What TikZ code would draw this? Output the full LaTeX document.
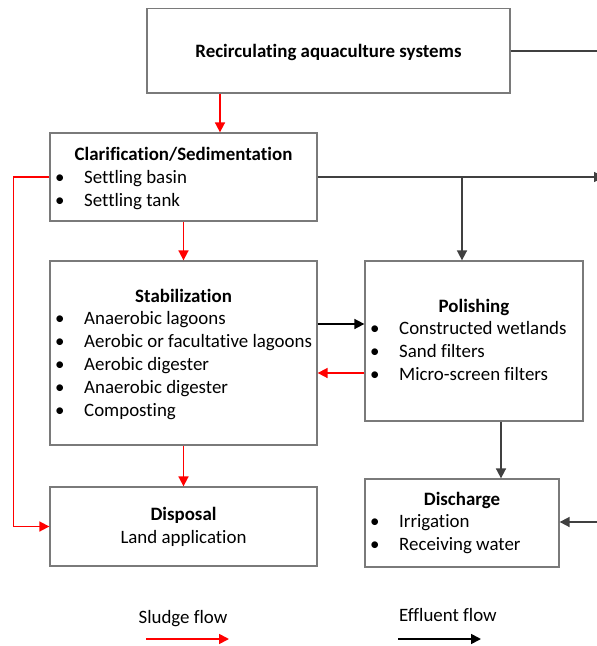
\documentclass[tikz,border=0pt]{standalone}
\usepackage{fontspec}
\setmainfont{Carlito}[Ligatures=NoCommon]
\usetikzlibrary{arrows.meta}
\definecolor{effl}{HTML}{404040}
\definecolor{bord}{HTML}{7A7A7A}
\tikzset{
  box/.style={draw=bord, line width=1.3pt, inner sep=0pt, rectangle},
  txt/.style={inner sep=0pt, font=\fontsize{18.9}{23}\selectfont},
  ttl/.style={inner sep=0pt, font=\fontsize{18.9}{23}\selectfont\bfseries, anchor=base},
  itm/.style={txt, anchor=base west},
  sludge/.style={draw=red, line width=1.7pt, -{Triangle[length=10pt,width=10pt]}},
  effluent/.style={draw=effl, line width=1.7pt, -{Triangle[length=10pt,width=10pt]}},
  blackflow/.style={draw=black, line width=1.7pt, -{Triangle[length=10pt,width=10pt]}},
}
\begin{document}
\begin{tikzpicture}[x=1pt,y=-1pt]
\useasboundingbox (0,0) rectangle (597,646);
% boxes
\node[box, minimum width=363pt, minimum height=84.5pt] (rec) at (328.5,50.75) {};
\node[box, minimum width=267pt, minimum height=88pt] (clar) at (183.5,177) {};
\node[box, minimum width=267pt, minimum height=184pt] (stab) at (183.5,353) {};
\node[box, minimum width=218pt, minimum height=160pt] (pol) at (474,341) {};
\node[box, minimum width=267pt, minimum height=79pt] (disp) at (183.5,526.5) {};
\node[box, minimum width=194pt, minimum height=88pt] (dis) at (462,523) {};
% texts
\node[ttl] (recT) at (328.5,57) {Recirculating aquaculture systems};
\node[ttl] (clarT) at (183.5,160) {Clarification/Sedimentation};
\node[itm] (clarB1) at (55,183) {\textbullet};
\node[itm] (clar1) at (84,183) {Settling basin};
\node[itm] (clarB2) at (55,206) {\textbullet};
\node[itm] (clar2) at (84,206) {Settling tank};
\node[ttl] (stabT) at (183.5,302) {Stabilization};
\node[itm] (stabB1) at (55,324) {\textbullet};
\node[itm] (stab1) at (84,324) {Anaerobic lagoons};
\node[itm] (stabB2) at (55,347) {\textbullet};
\node[itm] (stab2) at (84,347) {Aerobic or facultative lagoons};
\node[itm] (stabB3) at (55,370) {\textbullet};
\node[itm] (stab3) at (84,370) {Aerobic digester};
\node[itm] (stabB4) at (55,393) {\textbullet};
\node[itm] (stab4) at (84,393) {Anaerobic digester};
\node[itm] (stabB5) at (55,416) {\textbullet};
\node[itm] (stab5) at (84,416) {Composting};
\node[ttl] (polT) at (474,312) {Polishing};
\node[itm] (polB1) at (370,334) {\textbullet};
\node[itm] (pol1) at (399,334) {Constructed wetlands};
\node[itm] (polB2) at (370,357) {\textbullet};
\node[itm] (pol2) at (399,357) {Sand filters};
\node[itm] (polB3) at (370,380) {\textbullet};
\node[itm] (pol3) at (399,380) {Micro-screen filters};
\node[ttl] (dispT) at (183.5,520) {Disposal};
\node[txt, anchor=base] (disp1) at (183.5,543) {Land application};
\node[ttl] (disT) at (462,505) {Discharge};
\node[itm] (disB1) at (370,527) {\textbullet};
\node[itm] (dis1) at (399,527) {Irrigation};
\node[itm] (disB2) at (370,550) {\textbullet};
\node[itm] (dis2) at (399,550) {Receiving water};
% free ends
\coordinate (e1) at (600,50.75);
\coordinate (e2) at (604,177);
\coordinate (j1) at (462,177);
\coordinate (e3) at (600,522);
% connectors
\draw[sludge] (220,0 |- rec.south) -- (220,0 |- clar.north);
\draw[effluent,-] (rec.east) -- (e1);
\draw[effluent] (clar.east) -- (e2);
\draw[effluent] (j1) -- (j1 |- pol.north);
\draw[sludge] (clar.west) -- ++(-36,0) |- (disp.west);
\draw[sludge] (clar.south) -- (stab.north);
\draw[blackflow] (stab.east |- 0,324) -- (pol.west |- 0,324);
\draw[sludge] (pol.west |- 0,373) -- (stab.east |- 0,373);
\draw[sludge] (stab.south) -- (disp.north);
\draw[effluent] (501,0 |- pol.south) -- (501,0 |- dis.north);
\draw[effluent] (e3) -- (dis.east |- e3);
% legend
\node[txt, anchor=base] (lt1) at (183,623) {Sludge flow};
\node[txt, anchor=base] (lt2) at (448,621) {Effluent flow};
\coordinate (l1) at (146,639);
\coordinate (l2) at (229,639);
\coordinate (l3) at (398,639);
\coordinate (l4) at (481,639);
\draw[sludge] (l1) -- (l2);
\draw[blackflow] (l3) -- (l4);
\end{tikzpicture}
\end{document}
